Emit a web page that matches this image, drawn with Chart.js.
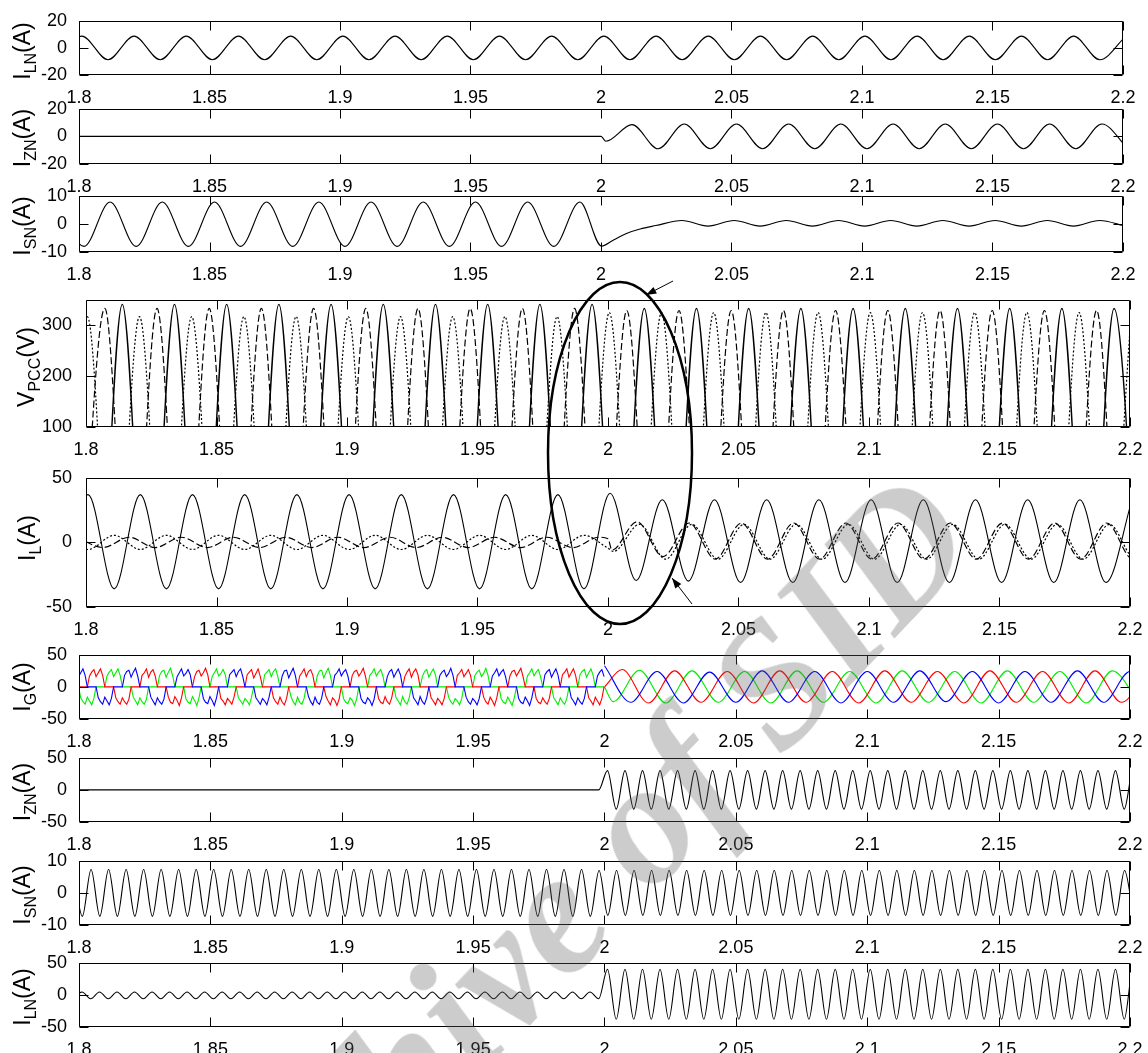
<!DOCTYPE html>
<html><head><meta charset="utf-8">
<script src="https://cdn.jsdelivr.net/npm/chart.js@4.4.0/dist/chart.umd.min.js"></script>
<style>
html,body{margin:0;padding:0;background:#fff;}
body{width:1148px;height:1053px;overflow:hidden;position:relative;font-family:"Liberation Sans",Arial,sans-serif;}
canvas.p{position:absolute;left:0;}
.yt{position:absolute;white-space:nowrap;font-size:23px;line-height:1;color:#000;transform:translate(-50%,-50%) rotate(-90deg);z-index:3;}
.yt .s{position:relative;top:6px;font-size:16px;}
#ov{position:absolute;left:0;top:0;z-index:8;}
#wm{position:absolute;left:563px;top:902px;transform:translate(-50%,-50%) rotate(-46.5deg);font:italic bold 176px "Liberation Serif",serif;color:rgba(95,95,95,0.32);white-space:nowrap;line-height:1;pointer-events:none;z-index:10;}
</style></head><body>
<div id="wm">Archive of SID</div>
<canvas id="ov" width="1148" height="1053"></canvas>
<script>
// ---------- axis ticks ----------
const xTicks = [1.8,1.85,1.9,1.95,2,2.05,2.1,2.15,2.2];
const xTickLabels = ['1.8','1.85','1.9','1.95','2','2.05','2.1','2.15','2.2'];
const yTicks20 = [-20,0,20];
const yTicks10 = [-10,0,10];
const yTicksV = [100,200,300];
const yTicks50 = [-50,0,50];

// ---------- data (extrema; grid = [start time, spacing]) ----------
// Panel 1: I_LN
const iLN1Grid = [1.7911, 0.01];
const iLN1 = [-8.7,8.7,-8.7,8.7,-8.7,8.7,-8.7,8.7,-8.7,8.7,-8.7,8.7,-8.7,8.7,-8.7,8.7,-8.7,8.7,-8.7,8.7,
  -8.7,8.7,-8.7,8.7,-8.7,8.7,-8.7,8.7,-8.7,8.7,-8.7,8.7,-8.7,8.7,-8.7,8.7,-8.7,8.7,-8.7,8.7,-8.7,8.7];
// Panel 2: I_ZN
const iZN1PreT = [1.79, 2.0];
const iZN1PreV = [0, 0];
const iZN1Grid = [2.0019, 0.01];
const iZN1 = [-3.5,8.5,-9,9,-9,9,-9,9,-9,9,-9,9,-9,9,-9,9,-9,9,-9,9,-9];
// Panel 3: I_SN
const iSN1Grid = [1.7919, 0.01];
const iSN1Pre = [7.8,-8,7.8,-8,7.8,-8,7.8,-8,7.8,-8,7.8,-8,7.8,-8,7.8,-8,7.8,-8,7.8,-8,7.8];
const iSN1TrT = [2.0002, 2.005, 2.01, 2.015, 2.021];
const iSN1TrV = [-7.9, -5.6, -3.3, -1.8, -0.6];
const iSN1PostGrid = [2.031, 0.01];
const iSN1Post = [1.2,-0.8,1.2,-0.8,1.2,-0.8,1.2,-0.8,1.2,-0.8,1.2,-0.8,1.2,-0.8,1.2,-0.8,1.2,-0.8];
// Panel 4: V_PCC (three phases)
const vSolidGrid = [1.7939, 0.01];
const vSolid = [341,-341,341,-341,341,-341,341,-341,341,-341,341,-341,341,-341,341,-341,341,-341,341,-341,341,
  -333,333,-333,333,-333,333,-333,333,-333,333,-333,333,-333,333,-333,333,-333,333,-333,333,-333];
const vDashGrid = [1.7972, 0.01];
const vDash = [-333,333,-333,333,-333,333,-333,333,-333,333,-333,333,-333,333,-333,333,-333,333,-333,333,-333,
  329,-329,329,-329,329,-329,329,-329,329,-329,329,-329,329,-329,329,-329,329,-329,329,-329,329];
const vDotGrid = [1.7905, 0.01];
const vDot = [-317,317,-317,317,-317,317,-317,317,-317,317,-317,317,-317,317,-317,317,-317,317,-317,317,-317,
  325,-325,325,-325,325,-325,325,-325,325,-325,325,-325,325,-325,325,-325,325,-325,325,-325,325];
// Panel 5: I_L
const iLSolidGrid = [1.7908, 0.01];
const iLSolid = [-36,37,-36,37,-36,37,-36,37,-36,37,-36,37,-36,37,-36,37,-36,37,-36,37,-36,
  38,-29.5,33,-30,33,-31,33,-31,33,-31,33,-31,33,-31,33,-31,33,-31,33,-31,33];
const iLDashPreGrid = [1.7965, 0.01];
const iLDashPre = [4,-4,4,-4,4,-4,4,-4,4,-4,4,-4,4,-4,4,-4,4,-4,4,-4,4];
const iLDashTrT = [2.0, 2.0015];
const iLDashTrV = [2.8, -6];
const iLDashPostGrid = [2.0111, 0.01];
const iLDashPost = [16,-11,15,-13,15,-13,15,-13,15,-13,15,-13,15,-13,15,-13,15,-13,15,-13,15];
const iLDotPreGrid = [1.7908, 0.01];
const iLDotPre = [5.5,-5.5,5.5,-5.5,5.5,-5.5,5.5,-5.5,5.5,-5.5,5.5,-5.5,5.5,-5.5,5.5,-5.5,5.5,-5.5,5.5,-5.5,5.5];
const iLDotTrT = [2.0, 2.0021];
const iLDotTrV = [-4.5, -7];
const iLDotPostGrid = [2.0121, 0.01];
const iLDotPost = [14,-13,14,-13,14,-13,14,-13,14,-13,14,-13,14,-13,14,-13,14,-13,14,-13,14];
// Panel 6: I_G (samples every 1/1200 s before t=2)
const iGPreGrid = [1.7965, 1/1200];
const iGBluePre = [
 0,17,23,27,16,22,28,18, 0,0,0,0, 0,-17,-23,-27,-16,-22,-28,-18, 0,0,0,0,
 0,18,24,26,15,23,29,17, 0,0,0,0, 0,-16,-22,-28,-17,-23,-27,-19, 0,0,0,0,
 0,16,22,28,17,21,27,19, 0,0,0,0, 0,-18,-24,-26,-15,-21,-29,-17, 0,0,0,0,
 0,19,23,27,16,24,28,16, 0,0,0,0, 0,-17,-22,-27,-18,-22,-28,-16, 0,0,0,0,
 0,17,25,26,14,22,29,18, 0,0,0,0, 0,-15,-23,-28,-16,-24,-27,-18, 0,0,0,0,
 0,18,22,28,17,23,27,17, 0,0,0,0, 0,-18,-24,-26,-17,-21,-29,-19, 0,0,0,0,
 0,16,24,27,15,22,28,19, 0,0,0,0, 0,-17,-22,-28,-15,-23,-27,-17, 0,0,0,0,
 0,18,23,26,16,21,29,18, 0,0,0,0, 0,-16,-23,-27,-18,-22,-28,-18, 0,0,0,0,
 0,17,22,28,17,23,27,16, 0,0,0,0, 0,-18,-24,-26,-16,-22,-29,-17, 0,0,0,0,
 0,19,24,27,15,22,28,18, 0,0,0,0, 0,-17,-22,-28,-17,-23,-27,-18, 0,0,0,0,
 0,17,23,27,16];
const iGRedPre = [
 -16,-22,-28,-18, 0,0,0,0, 0,17,23,27,16,22,28,18, 0,0,0,0, 0,-17,-23,-27,
 -17,-23,-27,-19, 0,0,0,0, 0,18,22,28,15,23,27,17, 0,0,0,0, 0,-16,-24,-26,
 -15,-21,-29,-17, 0,0,0,0, 0,16,24,26,17,22,29,19, 0,0,0,0, 0,-18,-22,-28,
 -18,-22,-27,-16, 0,0,0,0, 0,19,23,27,14,21,28,16, 0,0,0,0, 0,-17,-23,-27,
 -16,-24,-28,-18, 0,0,0,0, 0,17,22,28,16,24,27,18, 0,0,0,0, 0,-15,-22,-28,
 -17,-21,-29,-19, 0,0,0,0, 0,18,24,26,17,22,29,17, 0,0,0,0, 0,-18,-24,-26,
 -15,-23,-27,-17, 0,0,0,0, 0,16,23,28,15,23,28,19, 0,0,0,0, 0,-17,-22,-28,
 -18,-22,-28,-18, 0,0,0,0, 0,18,22,27,16,21,27,18, 0,0,0,0, 0,-16,-23,-27,
 -16,-22,-29,-17, 0,0,0,0, 0,17,24,26,17,23,29,16, 0,0,0,0, 0,-18,-24,-26,
 -17,-23,-27,-18, 0,0,0,0, 0,19,23,28,15,22,28,18, 0,0,0,0, 0,-17,-22,-28,
 -16,-22,-28,-18,0];
const iGGreenPre = [
 0,0,0,0, 0,-17,-23,-27,-16,-22,-28,-18, 0,0,0,0, 0,17,23,27,16,22,28,18,
 0,0,0,0, 0,-16,-22,-28,-17,-23,-27,-19, 0,0,0,0, 0,18,24,26,15,23,29,17,
 0,0,0,0, 0,-18,-24,-26,-15,-21,-29,-17, 0,0,0,0, 0,16,22,28,17,21,27,19,
 0,0,0,0, 0,-17,-22,-27,-18,-22,-28,-16, 0,0,0,0, 0,19,23,27,16,24,28,16,
 0,0,0,0, 0,-15,-23,-28,-16,-24,-27,-18, 0,0,0,0, 0,17,25,26,14,22,29,18,
 0,0,0,0, 0,-18,-24,-26,-17,-21,-29,-19, 0,0,0,0, 0,18,22,28,17,23,27,17,
 0,0,0,0, 0,-17,-22,-28,-15,-23,-27,-17, 0,0,0,0, 0,16,24,27,15,22,28,19,
 0,0,0,0, 0,-16,-23,-27,-18,-22,-28,-18, 0,0,0,0, 0,18,23,26,16,21,29,18,
 0,0,0,0, 0,-18,-24,-26,-16,-22,-29,-17, 0,0,0,0, 0,17,22,28,17,23,27,16,
 0,0,0,0, 0,-17,-22,-28,-17,-23,-27,-18, 0,0,0,0, 0,19,24,27,15,22,28,18,
 0,0,0,0,0];
const iGBluePostGrid = [2.0, 0.01];
const iGBluePost = [33,-24,24,-25,23,-24,25,-24,24,-25,24,-24,25,-23,24,-25,24,-24,25,-24,24,-25];
const iGRedPostGrid = [2.0067, 0.01];
const iGRedPost = [27,-25,25,-24,24,-25,25,-24,24,-25,25,-24,24,-25,25,-24,24,-25,25,-24,24];
const iGGreenPostGrid = [2.0033, 0.01];
const iGGreenPost = [-23,26,-25,25,-24,24,-25,25,-24,24,-25,25,-24,24,-25,25,-24,24,-25,25,-24];
// Panel 7: I_ZN (150 Hz extrema)
const iZN2Grid = [1.7978, 1/300];
const iZN2 = [0,0,0,0,0,0,0,0,0,0,0,0,0,0,0,0,0,0,0,0,0,0,0,0,0,0,0,0,0,0,0,0,0,0,0,0,0,0,0,0,0,0,0,0,0,0,0,0,0,0,0,0,0,0,0,0,0,0,0,0,0,30,
  -30,30,-30,30,-30,30,-30,30,-30,30,-30,30,-30,30,-30,30,-30,30,-30,30,-30,30,-30,30,-30,30,-30,30,-30,30,
  -30,30,-30,30,-30,30,-30,30,-30,30,-30,30,-30,30,-30,30,-30,30,-30,30,-30,30,-30,30,-30,30,-30,30,-30,30,-30];
// Panel 8: I_SN
const iSN2Grid = [1.79793, 1/300];
const iSN2 = [7.3,-7.3,7.3,-7.3,7.3,-7.3,7.3,-7.3,7.3,-7.3,7.3,-7.3,7.3,-7.3,7.3,-7.3,7.3,-7.3,7.3,-7.3,
  7.3,-7.3,7.3,-7.3,7.3,-7.3,7.3,-7.3,7.3,-7.3,7.3,-7.3,7.3,-7.3,7.3,-7.3,7.3,-7.3,7.3,-7.3,
  7.3,-7.3,7.3,-7.3,7.3,-7.3,7.3,-7.3,7.3,-7.3,7.3,-7.3,7.3,-7.3,7.3,-7.3,7.3,-7.3,7.3,-7.3,
  7,-7,7,-7,7,-7,7,-7,7,-7,7,-7,7,-7,7,-7,7,-7,7,-7,
  7,-7,7,-7,7,-7,7,-7,7,-7,7,-7,7,-7,7,-7,7,-7,7,-7,
  7,-7,7,-7,7,-7,7,-7,7,-7,7,-7,7,-7,7,-7,7,-7,7,-7,7,-7];
// Panel 9: I_LN (150 Hz extrema)
const iLN2Grid = [1.7978, 1/300];
const iLN2 = [-6,4.5,-6,4.5,-6,4.5,-6,4.5,-6,4.5,-6,4.5,-6,4.5,-6,4.5,-6,4.5,-6,4.5,
  -6,4.5,-6,4.5,-6,4.5,-6,4.5,-6,4.5,-6,4.5,-6,4.5,-6,4.5,-6,4.5,-6,4.5,
  -6,4.5,-6,4.5,-6,4.5,-6,4.5,-6,4.5,-6,4.5,-6,4.5,-6,4.5,-6,4.5,-6,4.5,-6,40,
  -38,40,-38,40,-38,40,-38,40,-38,40,-38,40,-38,40,-38,40,-38,40,-38,40,
  -38,40,-38,40,-38,40,-38,40,-38,40,-38,40,-38,40,-38,40,-38,40,-38,40,
  -38,40,-38,40,-38,40,-38,40,-38,40,-38,40,-38,40,-38,40,-38,40,-38,40,-38];

// ---------- helpers ----------
const FONT = '"Liberation Sans", Arial, sans-serif';
const W = 1148;
function grid(g, vals){ return vals.map((v,i)=>({x: g[0] + i*g[1], y: v})); }
function pairs(ts, vs){ return ts.map((t,i)=>({x: t, y: vs[i]})); }
function line(data, o){
  return Object.assign({data, borderColor:'#000', borderWidth:1.1, pointRadius:0, fill:false,
    cubicInterpolationMode:'monotone', capBezierPoints:false, clip:0}, o||{});
}

const boxTicks = {
  id:'boxTicks',
  afterDraw(chart){
    const {ctx, chartArea:a, scales} = chart;
    const TL = 9;
    const l = Math.round(a.left)+0.5, r = Math.round(a.right)-0.5, t = Math.round(a.top)+0.5, b = Math.round(a.bottom)-0.5;
    ctx.save();
    ctx.strokeStyle = '#000'; ctx.lineWidth = 1;
    ctx.beginPath();
    ctx.rect(l, t, r-l, b-t);
    scales.x.ticks.forEach(tk=>{
      const px = Math.round(scales.x.getPixelForValue(tk.value))+0.5;
      ctx.moveTo(px, t); ctx.lineTo(px, t+TL);
      ctx.moveTo(px, b); ctx.lineTo(px, b-TL);
    });
    scales.y.ticks.forEach(tk=>{
      const py = Math.round(scales.y.getPixelForValue(tk.value))+0.5;
      ctx.moveTo(l, py); ctx.lineTo(l+TL, py);
      ctx.moveTo(r, py); ctx.lineTo(r-TL, py);
    });
    ctx.stroke();
    ctx.restore();
  }
};

function panel(p){
  const PT = 14, XH = 30;
  const h = PT + (p.bottom - p.top) + XH;
  const cv = document.createElement('canvas');
  cv.className = 'p';
  cv.width = W; cv.height = h;
  cv.style.width = W+'px'; cv.style.height = h+'px';
  cv.style.top = (p.top - PT)+'px';
  document.body.appendChild(cv);
  new Chart(cv, {
    type:'line',
    data:{datasets:p.datasets},
    options:{
      responsive:false, animation:false, devicePixelRatio:1, events:[],
      layout:{padding:{top:PT, right:W - p.right, bottom:0, left:0}},
      plugins:{legend:{display:false}, tooltip:{enabled:false}},
      scales:{
        x:{type:'linear', min:1.8, max:2.2,
          grid:{display:false}, border:{display:false},
          afterBuildTicks:s=>{ s.ticks = xTicks.map(v=>({value:v})); },
          afterFit:s=>{ s.height = XH; },
          ticks:{autoSkip:false, maxRotation:0, minRotation:0, padding:4, color:'#000',
            font:{family:FONT, size:18}, callback:(v,i)=>xTickLabels[i]}},
        y:{type:'linear', min:p.ymin, max:p.ymax,
          grid:{display:false}, border:{display:false},
          afterBuildTicks:s=>{ s.ticks = p.yTicks.map(v=>({value:v})); },
          afterFit:s=>{ s.width = p.left; },
          ticks:{autoSkip:false, padding:p.ypad, color:'#000',
            font:{family:FONT, size:18}, callback:v=>String(v)}}
      }
    },
    plugins:[boxTicks]
  });
  const t = document.createElement('div');
  t.className = 'yt';
  t.innerHTML = p.title;
  t.style.left = p.tx+'px';
  t.style.top = ((p.top+p.bottom)/2 + (p.ty||0))+'px';
  document.body.appendChild(t);
}

const dashed = {borderDash:[7,3], borderWidth:1.2};
const dotted = {borderDash:[2,2], borderWidth:1.2};

const panels = [
  {top:20, bottom:75, left:79, right:1123, ymin:-20, ymax:20, yTicks:yTicks20, ypad:4, tx:22, ty:3,
   title:'I<span class="s">LN</span>(A)',
   datasets:[line(grid(iLN1Grid, iLN1))]},
  {top:108, bottom:164, left:79, right:1123, ymin:-20, ymax:20, yTicks:yTicks20, ypad:4, tx:22, ty:2,
   title:'I<span class="s">ZN</span>(A)',
   datasets:[line(pairs(iZN1PreT, iZN1PreV).concat(grid(iZN1Grid, iZN1)))]},
  {top:195, bottom:252, left:79, right:1123, ymin:-10, ymax:10, yTicks:yTicks10, ypad:4, tx:22, ty:2,
   title:'I<span class="s">SN</span>(A)',
   datasets:[line(grid(iSN1Grid, iSN1Pre).concat(pairs(iSN1TrT, iSN1TrV), grid(iSN1PostGrid, iSN1Post)))]},
  {top:297, bottom:427, left:86, right:1130, ymin:100, ymax:350, yTicks:yTicksV, ypad:6, tx:26, ty:5,
   title:'V<span class="s">PCC</span>(V)',
   datasets:[
     line(grid(vSolidGrid, vSolid), {borderWidth:1.4}),
     line(grid(vDashGrid, vDash), dashed),
     line(grid(vDotGrid, vDot), dotted)]},
  {top:475, bottom:607, left:86, right:1130, ymin:-50, ymax:50, yTicks:yTicks50, ypad:6, tx:27, ty:-3,
   title:'I<span class="s">L</span>(A)',
   datasets:[
     line(grid(iLSolidGrid, iLSolid)),
     line(grid(iLDashPreGrid, iLDashPre).concat(pairs(iLDashTrT, iLDashTrV), grid(iLDashPostGrid, iLDashPost)), dashed),
     line(grid(iLDotPreGrid, iLDotPre).concat(pairs(iLDotTrT, iLDotTrV), grid(iLDotPostGrid, iLDotPost)), dotted)]},
  {top:654, bottom:719, left:79, right:1130, ymin:-50, ymax:50, yTicks:yTicks50, ypad:4, tx:22, ty:0,
   title:'I<span class="s">G</span>(A)',
   datasets:[
     line(grid(iGPreGrid, iGBluePre), {borderColor:'#0000ff', cubicInterpolationMode:'default', tension:0}),
     line(grid(iGPreGrid, iGRedPre), {borderColor:'#ff0000', cubicInterpolationMode:'default', tension:0}),
     line(grid(iGPreGrid, iGGreenPre), {borderColor:'#00ee00', cubicInterpolationMode:'default', tension:0}),
     line(grid(iGBluePostGrid, iGBluePost), {borderColor:'#0000ff'}),
     line([{x:2.0,y:0}].concat(grid(iGRedPostGrid, iGRedPost)), {borderColor:'#ff0000'}),
     line([{x:2.0,y:0}].concat(grid(iGGreenPostGrid, iGGreenPost)), {borderColor:'#00ee00'})]},
  {top:757, bottom:822, left:79, right:1130, ymin:-50, ymax:50, yTicks:yTicks50, ypad:4, tx:22, ty:2,
   title:'I<span class="s">ZN</span>(A)',
   datasets:[line(grid(iZN2Grid, iZN2))]},
  {top:860, bottom:925, left:79, right:1130, ymin:-10, ymax:10, yTicks:yTicks10, ypad:4, tx:22, ty:2,
   title:'I<span class="s">SN</span>(A)',
   datasets:[line(grid(iSN2Grid, iSN2))]},
  {top:962, bottom:1027, left:79, right:1130, ymin:-50, ymax:50, yTicks:yTicks50, ypad:4, tx:22, ty:2,
   title:'I<span class="s">LN</span>(A)',
   datasets:[line(grid(iLN2Grid, iLN2))]}
];
panels.forEach(panel);

// ---------- annotation: ellipse and arrows ----------
(function(){
  const c = document.getElementById('ov').getContext('2d');
  c.strokeStyle = '#000';
  c.lineWidth = 2.5;
  c.beginPath();
  c.ellipse(620, 453, 72, 171, 0, 0, Math.PI*2);
  c.stroke();
  function arrow(x1,y1,x2,y2){
    c.lineWidth = 1;
    c.beginPath(); c.moveTo(x1,y1); c.lineTo(x2,y2); c.stroke();
    const a = Math.atan2(y2-y1, x2-x1), L = 11, w = 0.35;
    c.beginPath();
    c.moveTo(x2,y2);
    c.lineTo(x2 - L*Math.cos(a-w), y2 - L*Math.sin(a-w));
    c.lineTo(x2 - L*Math.cos(a+w), y2 - L*Math.sin(a+w));
    c.closePath(); c.fillStyle='#000'; c.fill();
  }
  arrow(673, 281, 646, 295);
  arrow(692, 604, 672, 578);
})();
</script>
</body></html>
